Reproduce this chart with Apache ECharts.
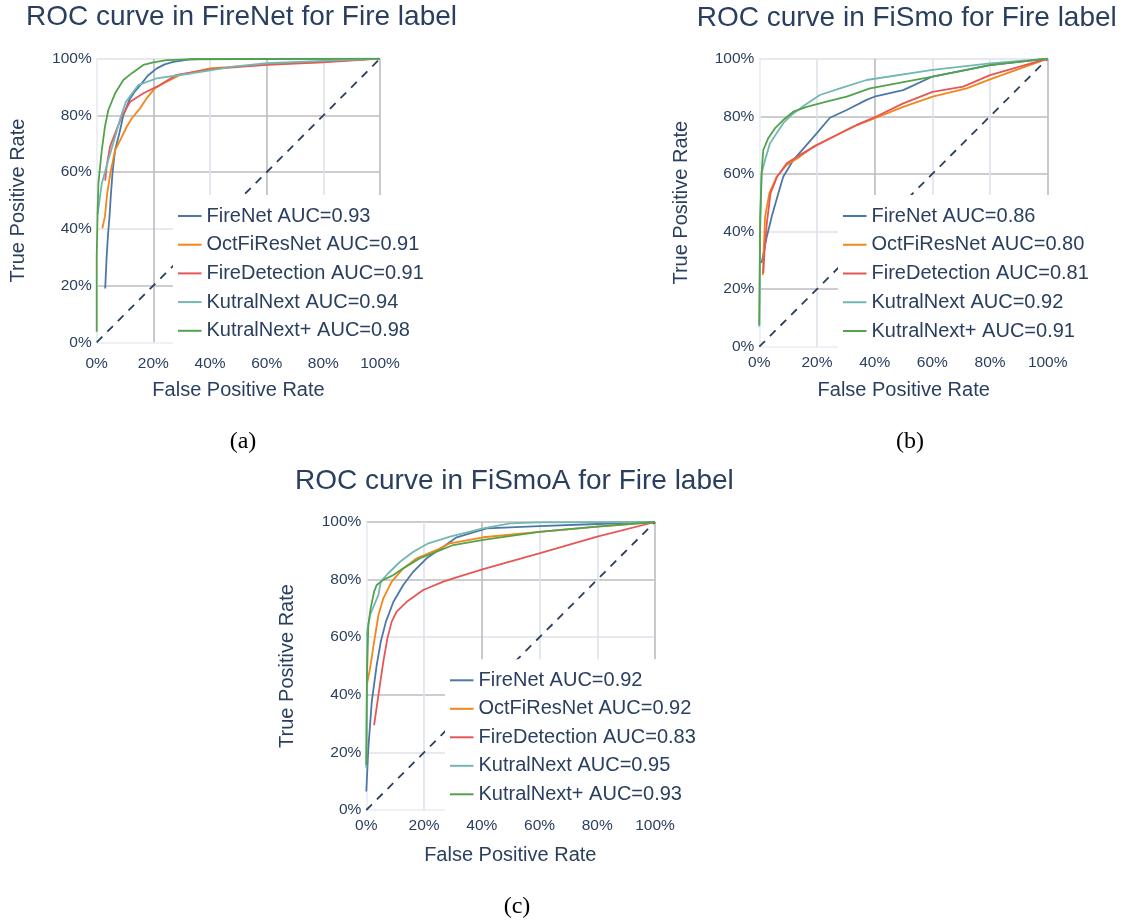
<!DOCTYPE html>
<html>
<head>
<meta charset="utf-8">
<script src="https://cdn.jsdelivr.net/npm/echarts@6/dist/echarts.min.js"></script>
<style>html,body{margin:0;padding:0;background:#fff;}#c{width:1129px;height:924px;}</style>
</head>
<body>
<div id="c"></div>
<script>
// ---------- DATA ----------
const modelNames = ['FireNet', 'OctFiResNet', 'FireDetection', 'KutralNext', 'KutralNext+'];
const aucFireNetDS = [0.93, 0.91, 0.91, 0.94, 0.98];
const aucFiSmo = [0.86, 0.80, 0.81, 0.92, 0.91];
const aucFiSmoA = [0.92, 0.92, 0.83, 0.95, 0.93];
const tickValues = [0, 20, 40, 60, 80, 100];
const diagonal = [[0, 0], [100, 100]];

// (a) FireNet dataset, [FPR %, TPR %]
const a_FireNet = [[3,19],[3.5,30],[4,38],[4.5,44],[5,52],[5.6,60],[6.5,67.8],[8,73.7],[9.4,80],[11.5,85.4],[13.5,88.5],[15.9,91.3],[18,94],[21.2,96.6],[24,98],[27,98.9],[33,99.8],[50,99.9],[100,100]];
const a_OctFiResNet = [[2,40.2],[2.9,44.3],[3.7,52.5],[4.9,60],[6.5,67.8],[8,70.7],[10.6,76],[12.4,79],[15.3,82.5],[17.6,86],[20.6,89.6],[23.5,91.3],[29.4,94.3],[40,96.6],[60,98],[80,99],[100,100]];
const a_FireDetection = [[3,57],[3.5,62],[4.7,69],[6.5,73.7],[8.8,79.5],[11.8,84.8],[16.5,87.8],[22.3,90.7],[28.2,94.3],[41.2,96.4],[60,97.8],[80,98.7],[100,100]];
const a_KutralNext = [[0.3,45],[1,50],[1.8,56],[4.1,64.3],[6.5,72.5],[8.5,79.5],[10.3,84.8],[14.7,90.7],[21.2,93.1],[31.8,94.6],[48.2,97.2],[60,98.4],[80,99.2],[100,100]];
const a_KutralNextPlus = [[0,3.7],[0,30],[0.3,45],[0.6,56],[1.8,67.8],[2.9,76],[4.1,81.9],[6.5,87.8],[9.4,92.5],[12.4,94.9],[16.5,97.8],[20,98.7],[24.7,99.5],[36.5,99.9],[100,100]];

// (b) FiSmo dataset
const b_FireNet = [[0.8,29],[2.6,38.2],[4.3,45.1],[6.6,53.3],[8.3,59],[11.8,64.8],[15.8,69.4],[19.9,74.1],[24.5,79.5],[30.3,82.2],[37.2,85.7],[39.9,86.8],[49.9,89.1],[60.1,93.8],[80,97.8],[100,100]];
const b_OctFiResNet = [[1.2,24.9],[1.6,35],[2,45.1],[3.5,53.3],[6,59],[9.5,63.1],[14.1,66],[18.7,69.4],[25.7,72.9],[32.6,76.4],[39.9,79.3],[49.9,83.3],[60.1,86.8],[71.9,89.7],[80,92.8],[100,100]];
const b_FireDetection = [[1.4,25.5],[1.8,33],[2.6,42.8],[3.9,53.3],[6.2,59],[9.5,63.7],[14.1,66.6],[19.9,70],[26.8,73.5],[33.8,77],[39.9,79.6],[49.9,84.5],[60.1,88.5],[70.7,90.3],[80,94.3],[100,100]];
const b_KutralNext = [[0,6.9],[0.3,40],[0.8,60.2],[2,64.8],[3.7,70.6],[6,74.1],[8.3,77.6],[11.2,80.5],[15.8,83.9],[21,87.4],[28,89.7],[37.2,92.6],[60.1,96.1],[80,98.4],[100,100]];
const b_KutralNextPlus = [[0,7.5],[0.3,45],[0.8,60],[1.2,66],[1.4,68.3],[3.1,72.4],[5.4,75.8],[8.3,78.7],[11.8,81.6],[16.4,83.3],[23.3,85.1],[30.3,86.8],[38.4,89.7],[60.1,93.8],[80,97.8],[100,100]];

// (c) FiSmoA dataset
const c_FireNet = [[0,6.4],[0.7,21.4],[1.9,37.6],[3.6,50.3],[5,58.4],[6.8,65.4],[9.4,72.3],[12.8,78.1],[16.3,82.8],[20.9,87.4],[26.7,91.4],[31.3,94.7],[41.7,97.8],[59.9,98.6],[80,99.3],[100,100]];
const c_OctFiResNet = [[0.3,44],[1.3,49.2],[2.7,58.4],[4.2,67.7],[5.9,73.5],[8.8,79.3],[12.8,83.9],[17.5,87.4],[24.4,90.3],[29,92.6],[40.5,94.7],[59.9,96.6],[80,98.4],[100,100]];
const c_FireDetection = [[2.7,29.5],[4.2,39.9],[5.9,51.5],[7.3,59.6],[8.8,65.4],[10.5,68.9],[14,72.3],[19.7,76.4],[26.7,79.3],[30.1,80.4],[40.5,83.6],[59.9,89.1],[80,94.9],[100,100]];
const c_KutralNext = [[0,14.5],[0.2,40],[0.3,61.9],[1.3,67.7],[3,71.8],[4.2,74.7],[5,79.3],[7.6,82.2],[11.7,86.2],[16.3,89.7],[21.5,92.6],[29,94.9],[40.5,97.8],[49.8,99.5],[59.9,99.9],[100,100]];
const c_KutralNextPlus = [[0,15.6],[0.2,45],[0.7,64.2],[1.5,70],[2.7,75.8],[3.6,78.1],[5.9,79.9],[9.4,81.6],[12.8,83.9],[18.6,87.4],[24.4,89.7],[30.1,92],[40.5,93.8],[59.9,96.6],[80,98.4],[100,100]];

// ---------- STYLE ----------
const colors = ['#4C78A8', '#F58518', '#E45756', '#72B7B2', '#54A24B'];
const TXT = '#2a3f5f';
const FONT = '"Liberation Sans", Arial, sans-serif';
const D = '#bcbcc1', L = '#dfe2ea', Z = '#e9ecf5';

const panels = [
  { title: 'ROC curve in FireNet for Fire label', auc: aucFireNetDS,
    data: [a_FireNet, a_OctFiResNet, a_FireDetection, a_KutralNext, a_KutralNextPlus],
    grid: { left: 96.7, top: 58.7, width: 283.3, height: 283.6 },
    xColors: [Z, D, L, D, L, D], yColors: [Z, D, L, D, D, L], xMargin: 13,
    titlePos: [26, 17], yName: [18.3, 200.5], xName: [238.5, 390], sub: ['(a)', 243, 442],
    legend: { left: 173, top: 195, gap: 6.7 } },
  { title: 'ROC curve in FiSmo for Fire label', auc: aucFiSmo,
    data: [b_FireNet, b_OctFiResNet, b_FireDetection, b_KutralNext, b_KutralNextPlus],
    grid: { left: 759.3, top: 58.7, width: 288.4, height: 288 },
    xColors: [Z, L, D, L, L, D], yColors: [Z, D, L, D, D, L], xMargin: 8.5,
    titlePos: [696.7, 18], yName: [681, 202.7], xName: [903.7, 390], sub: ['(b)', 910, 442],
    legend: { left: 838, top: 195, gap: 6.75 } },
  { title: 'ROC curve in FiSmoA for Fire label', auc: aucFiSmoA,
    data: [c_FireNet, c_OctFiResNet, c_FireDetection, c_KutralNext, c_KutralNextPlus],
    grid: { left: 366.3, top: 522, width: 288.7, height: 288 },
    xColors: [Z, L, D, L, L, D], yColors: [Z, L, D, L, D, D], xMargin: 7.5,
    titlePos: [295, 481], yName: [287.5, 666], xName: [510.3, 855], sub: ['(c)', 517, 907],
    legend: { left: 445, top: 659.3, gap: 6.5 } }
];

const grids = [], xAxes = [], yAxes = [], series = [], legends = [], graphics = [];
const pct = v => v + '%';

panels.forEach((p, i) => {
  grids.push(Object.assign({ containLabel: false }, p.grid));
  xAxes.push({
    type: 'value', gridIndex: i, min: 0, max: 100, interval: 20,
    axisLine: { show: false }, axisTick: { show: false },
    axisLabel: { formatter: pct, fontSize: 15.5, color: TXT, fontFamily: FONT, margin: p.xMargin },
    splitLine: { show: true, lineStyle: { color: p.xColors, width: 1.6 } }
  });
  yAxes.push({
    type: 'value', gridIndex: i, min: 0, max: 100, interval: 20,
    axisLine: { show: false }, axisTick: { show: false },
    axisLabel: { formatter: pct, fontSize: 15.5, color: TXT, fontFamily: FONT, margin: 5 },
    splitLine: { show: true, lineStyle: { color: p.yColors, width: 1.6 } }
  });
  series.push({
    type: 'line', name: 'diag' + i, xAxisIndex: i, yAxisIndex: i, data: diagonal,
    symbol: 'none', silent: true,
    lineStyle: { color: TXT, width: 1.8, type: [8, 7] }, z: 1
  });
  const names = [];
  modelNames.forEach((m, k) => {
    const nm = m + ' AUC=' + p.auc[k].toFixed(2);
    names.push(nm);
    series.push({
      type: 'line', name: nm, xAxisIndex: i, yAxisIndex: i, data: p.data[k],
      symbol: 'none', showSymbol: false, color: colors[k],
      lineStyle: { color: colors[k], width: 1.8 }, z: 2
    });
  });
  legends.push({
    orient: 'vertical', left: p.legend.left, top: p.legend.top,
    padding: [10, 6, 8, 5], icon: 'rect', itemWidth: 23.5, itemHeight: 2, itemGap: p.legend.gap,
    backgroundColor: '#ffffff', data: names, selectedMode: false,
    textStyle: { fontSize: 20, color: TXT, fontFamily: FONT, lineHeight: 22 }
  });
  graphics.push({
    type: 'text', x: p.titlePos[0], y: p.titlePos[1],
    style: { text: p.title, fontSize: 28, fontFamily: FONT, fill: TXT,
      align: 'left', verticalAlign: 'middle', textAlign: 'left', textVerticalAlign: 'middle' }
  });
  graphics.push({
    type: 'text', x: p.yName[0], y: p.yName[1], rotation: Math.PI / 2,
    style: { text: 'True Positive Rate', fontSize: 20, fontFamily: FONT, fill: TXT,
      align: 'center', verticalAlign: 'middle', textAlign: 'center', textVerticalAlign: 'middle' }
  });
  graphics.push({
    type: 'text', x: p.xName[0], y: p.xName[1],
    style: { text: 'False Positive Rate', fontSize: 20, fontFamily: FONT, fill: TXT,
      align: 'center', verticalAlign: 'middle', textAlign: 'center', textVerticalAlign: 'middle' }
  });
  graphics.push({
    type: 'text', x: p.sub[1], y: p.sub[2],
    style: { text: p.sub[0], fontSize: 24, fontFamily: '"Liberation Serif", "Times New Roman", serif', fill: '#000',
      align: 'center', verticalAlign: 'middle', textAlign: 'center', textVerticalAlign: 'middle' }
  });
});

const chart = echarts.init(document.getElementById('c'), null, { renderer: 'canvas' });
chart.setOption({
  backgroundColor: '#ffffff',
  animation: false,
  grid: grids, xAxis: xAxes, yAxis: yAxes,
  series: series, legend: legends, graphic: graphics
});
</script>
</body>
</html>
